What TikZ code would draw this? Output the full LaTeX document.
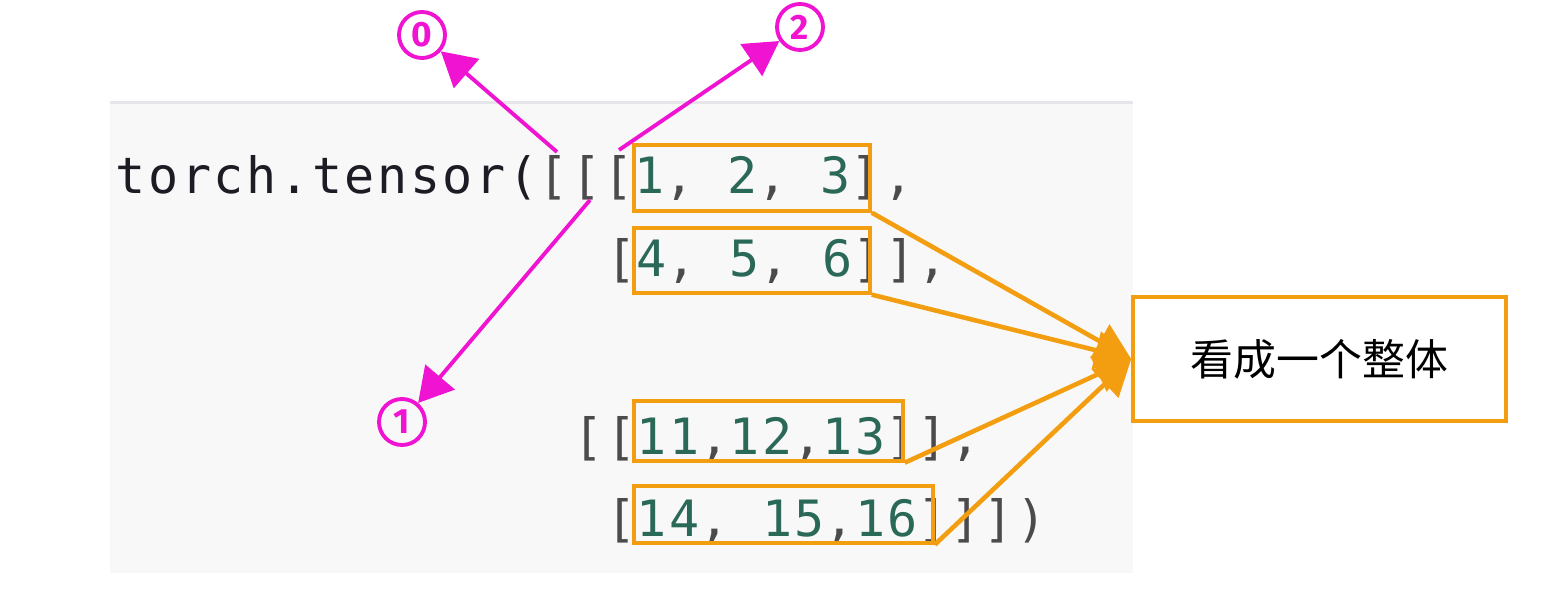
\documentclass[tikz,border=0pt]{standalone}
\usepackage{fontspec}
\usepackage{tikz}
\usetikzlibrary{arrows.meta}
\newfontfamily\codefont[LetterSpace=5.2]{DejaVu Sans Mono}
\newfontfamily\cjkfont{Noto Sans CJK SC}
\newfontfamily\markfont{Fira Sans}
\definecolor{panel}{RGB}{248,248,249}
\definecolor{panelline}{RGB}{230,230,234}
\definecolor{codeblack}{RGB}{28,28,36}
\definecolor{brkgray}{RGB}{75,75,75}
\definecolor{numcol}{RGB}{42,104,88}
\definecolor{boxorange}{RGB}{243,158,16}
\definecolor{pink}{RGB}{240,20,210}
\newcommand{\num}[1]{\textcolor{numcol}{#1}}
\newcommand{\brk}[1]{\textcolor{brkgray}{#1}}

\begin{document}
\begin{tikzpicture}[x=0.01cm, y=-0.01cm,
    code/.style={anchor=base west, inner sep=0pt, text=codeblack,
        font=\codefont\fontsize{14.23}{17}\selectfont},
    numbox/.style={draw=boxorange, line width=0.95pt, inner sep=0pt},
    dimmark/.style={circle, draw=pink, line width=1.1pt, minimum size=0.46cm,
        inner sep=0pt, text=pink, font=\markfont\bfseries\fontsize{10}{10}\selectfont},
    pinkarrow/.style={draw=pink, line width=1.1pt, -{Triangle[length=3.4mm, width=3.8mm]}},
    orangearrow/.style={draw=boxorange, line width=1.3pt, -{Triangle[length=3.6mm, width=3.8mm]}}]
    \useasboundingbox (0,0) rectangle (1561,610);
    \fill[panel] (110,103) rectangle (1133,573);
    \draw[panelline, line width=0.85pt] (110,103) -- (1133,103);
    \node[code] (l1) at (115,194) {torch.tensor(\brk{[[[}\num{1}\brk{,} \num{2}\brk{,} \num{3}\brk{],}};
    \node[code] (l2) at (605.5,277) {\brk{[}\num{4}\brk{,} \num{5}\brk{,} \num{6}\brk{]],}};
    \node[code] (l3) at (572.8,455) {\brk{[[}\num{11}\brk{,}\num{12}\brk{,}\num{13}\brk{]],}};
    \node[code] (l4) at (605.5,537) {\brk{[}\num{14}\brk{,} \num{15}\brk{,}\num{16}\brk{]]])}};
    \node[numbox, minimum width=2.36cm, minimum height=0.66cm] (b1) at (752,178) {};
    \node[numbox, minimum width=2.36cm, minimum height=0.65cm] (b2) at (752,260.5) {};
    \node[numbox, minimum width=2.69cm, minimum height=0.60cm] (b3) at (768.5,431) {};
    \node[numbox, minimum width=2.99cm, minimum height=0.57cm] (b4) at (783.5,514.5) {};
    \node[numbox, fill=white, minimum width=3.73cm, minimum height=1.24cm,
        font=\cjkfont\fontsize{12.2}{14}\selectfont] (note) at (1319.5,359) {看成一个整体};
    \node[dimmark] (c0) at (422,35) {0};
    \node[dimmark] (c1) at (402,422) {1};
    \node[dimmark] (c2) at (800,27) {2};
    \coordinate (s0) at (557,152);
    \coordinate (s1) at (590,200);
    \coordinate (s2) at (619,150);
    \draw[pinkarrow] (s0) -- (c0);
    \draw[pinkarrow] (s1) -- (c1);
    \draw[pinkarrow] (s2) -- (c2);
    \foreach \b in {b1, b2, b3, b4}
        \draw[orangearrow] (\b.south east) -- (note.west);
\end{tikzpicture}
\end{document}
